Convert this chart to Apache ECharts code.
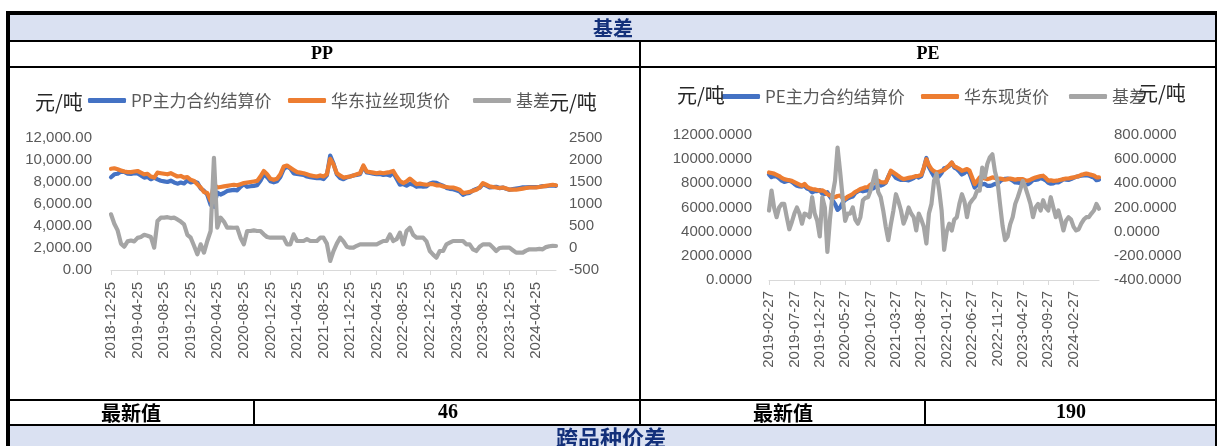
<!DOCTYPE html>
<html><head><meta charset="utf-8">
<script src="https://cdn.jsdelivr.net/npm/echarts@6/dist/echarts.min.js"></script>
<style>html,body{margin:0;padding:0;background:#fff}#c{width:1217px;height:446px}</style>
</head><body><div id="c"></div>
<script>
// ---------- PP (semi-monthly samples from 2018-12-25) ----------
const ppTickLabels = ['2018-12-25','2019-04-25','2019-08-25','2019-12-25','2020-04-25','2020-08-25','2020-12-25','2021-04-25','2021-08-25','2021-12-25','2022-04-25','2022-08-25','2022-12-25','2023-04-25','2023-08-25','2023-12-25','2024-04-25'];
const ppFutures = [8434,8700,8750,8950,8920,8750,8730,8800,8770,8600,8400,8470,8250,8393,8237,8111,8061,8000,8120,7961,7850,7950,7863,8150,7966,8050,7944,7417,7206,6841,5914,5750,7038,6861,7000,7188,7238,7290,7238,7566,7817,7564,7614,7650,7714,8114,8689,8450,8066,7966,8066,8466,9166,9417,9217,8789,8741,8691,8641,8500,8441,8391,8341,8366,8266,8600,10395,9670,8700,8366,8250,8420,8493,8593,8650,8717,9417,8867,8817,8767,8717,8730,8641,8691,8589,8841,8300,7750,7817,7664,7838,7750,7566,7616,7566,7600,7868,7950,7920,7768,7668,7467,7380,7341,7241,7141,6841,6967,7017,7230,7368,7470,7817,7667,7517,7540,7568,7450,7493,7393,7293,7350,7406,7456,7506,7510,7530,7530,7530,7570,7630,7630,7660,7700,7654];
const ppSpot = [9200,9250,9150,9050,8950,8900,8900,8950,9000,8850,8700,8750,8500,8400,8850,8800,8750,8700,8800,8650,8500,8550,8400,8450,8200,8100,7800,7500,7100,7000,6300,7800,7500,7550,7600,7650,7700,7750,7700,7800,7900,7950,8000,8050,8100,8500,9000,8700,8300,8200,8300,8700,9400,9500,9300,9100,8900,8850,8800,8700,8600,8550,8500,8600,8500,8700,10100,9600,8800,8600,8400,8450,8500,8600,8700,8800,9500,8950,8900,8850,8800,8850,8800,8850,8900,9000,8500,8100,7900,8050,8300,8050,7800,7850,7800,7750,7800,7800,7700,7700,7600,7550,7500,7500,7400,7300,7000,7050,7100,7200,7300,7500,7900,7750,7600,7550,7500,7450,7500,7400,7300,7300,7300,7350,7400,7450,7500,7500,7500,7550,7600,7650,7700,7750,7700];
const ppBasis = [766,550,400,100,30,150,170,150,230,250,300,280,250,7,613,689,689,700,680,689,650,600,537,300,234,50,-144,83,-106,159,386,2050,462,689,600,462,462,460,462,234,83,386,386,400,386,386,311,250,234,234,234,234,234,83,83,311,159,159,159,200,159,159,159,234,234,100,-295,-70,100,234,150,30,7,7,50,83,83,83,83,83,83,120,159,159,311,159,200,350,83,386,462,300,234,234,234,150,-68,-150,-220,-68,-68,83,120,159,159,159,159,83,83,-30,-68,30,83,83,83,10,-68,0,7,7,7,-50,-106,-106,-106,-60,-30,-30,-30,-20,-30,20,40,50,46];

// ---------- PE (semi-monthly samples from 2019-02-27) ----------
const peTickLabels = ['2019-02-27','2019-07-27','2019-12-27','2020-05-27','2020-10-27','2021-03-27','2021-08-27','2022-01-27','2022-06-27','2022-11-27','2023-04-27','2023-09-27','2024-02-27'];
const peFutures = [8725,8510,8600,8580,8400,8220,8120,8180,8230,8120,7950,7800,7750,7734,7800,7560,7480,7245,7350,7360,7440,7135,7100,7267,6900,6600,6300,5800,6000,6400,6620,6750,6850,6920,7200,7334,7410,7340,7390,7415,7560,7580,7696,7890,7815,7905,8040,8570,8980,8725,8450,8350,8275,8284,8280,8250,8340,8430,8590,8480,8600,9260,10098,9350,8950,8580,8420,8600,8865,9250,9300,9434,9710,9300,9190,8970,8730,8850,9060,8820,8240,7655,7860,8150,7920,7950,7790,7785,7850,7950,7930,8170,8300,8370,8390,8340,8230,8070,8065,8000,7930,7883,7920,8070,8280,8290,8320,8425,8370,8250,8045,7965,8000,8100,8075,8200,8340,8310,8280,8350,8450,8540,8580,8634,8660,8680,8640,8550,8475,8260,8310];
const peSpot = [8900,8850,8800,8700,8600,8450,8350,8300,8250,8200,8100,8000,7900,7800,7950,7700,7600,7530,7500,7450,7400,7420,7300,7100,7000,6900,6850,6950,6990,6800,6710,6900,7000,7120,7300,7400,7530,7600,7670,7700,7900,8000,8200,8220,8100,8080,8080,8500,9040,8900,8760,8600,8450,8350,8400,8450,8490,8550,8600,8630,8700,9300,10000,9500,9180,9000,8900,8950,9040,9100,9300,9500,9720,9400,9310,9200,9040,9100,9180,9050,8500,7940,8200,8490,8450,8400,8350,8400,8490,8450,8350,8400,8350,8300,8350,8400,8350,8300,8350,8350,8350,8250,8220,8300,8400,8490,8550,8600,8630,8450,8220,8250,8200,8220,8250,8300,8350,8400,8400,8450,8490,8550,8600,8700,8760,8800,8760,8700,8650,8490,8500];
const peBasis = [175,340,200,120,200,230,230,120,20,80,150,200,150,66,150,140,120,285,150,90,-40,285,200,-167,100,300,420,696,500,285,90,150,150,200,100,66,120,260,280,285,340,420,504,330,285,175,40,-70,60,175,310,250,175,66,120,200,150,120,10,150,100,40,-98,150,230,420,480,350,175,-150,0,66,10,100,120,230,310,250,120,230,260,285,340,340,530,450,560,615,640,500,420,230,50,-70,-40,60,120,230,285,350,420,367,300,230,120,200,230,175,260,200,175,285,200,120,175,100,10,90,120,100,40,10,20,66,100,120,120,150,175,230,190];

const latestPP = '46';
const latestPE = '190';

function halfMonthDates(y0, m0, dA, dB, n) {
  const out = [];
  for (let k = 0; k < n; k++) {
    const off = Math.ceil(k / 2);
    const d = k % 2 === 0 ? dA : dB;
    let mm = m0 - 1 + off;
    const yy = y0 + Math.floor(mm / 12);
    mm = mm % 12 + 1;
    out.push(yy + '-' + String(mm).padStart(2, '0') + '-' + String(d).padStart(2, '0'));
  }
  return out;
}
const ppDates = halfMonthDates(2018, 12, 25, 10, ppSpot.length);
const peDates = halfMonthDates(2019, 2, 27, 12, peSpot.length);

const BLUE = '#4472C4', ORANGE = '#ED7D31', GRAY = '#A5A5A5';
const LBL = '#595959';
const NUMF = 'Liberation Sans';
const CJK = 'Noto Sans CJK SC';

function xAx(grid, dates, ticks, margin) {
  const f = (i, v) => ticks.indexOf(v) >= 0;
  return {
    type: 'category', gridIndex: grid, data: dates, boundaryGap: false,
    axisLine: { lineStyle: { color: '#D9D9D9', width: 1 } },
    axisTick: { show: true, length: 5, interval: f, lineStyle: { color: '#D9D9D9' } },
    axisLabel: { interval: f, rotate: 90, margin: margin, color: LBL, fontSize: 15, fontFamily: NUMF },
    splitLine: { show: false }
  };
}
function yAx(grid, pos, min, max, itv, fmt, margin) {
  return {
    type: 'value', gridIndex: grid, position: pos, min: min, max: max, interval: itv,
    axisLine: { show: false }, axisTick: { show: false }, splitLine: { show: false },
    axisLabel: { formatter: fmt, margin: margin, color: LBL, fontSize: 15, fontFamily: NUMF }
  };
}
function ln(name, xi, yi, data, color) {
  return { name: name, type: 'line', xAxisIndex: xi, yAxisIndex: yi, data: data,
    showSymbol: false, symbol: 'none', color: color,
    lineStyle: { width: 4.2, color: color, cap: 'round', join: 'round' } };
}
function leg(name, left, top) {
  return { data: [name], left: left, top: top, padding: 0, icon: 'roundRect',
    itemWidth: 38, itemHeight: 5, selectedMode: false,
    textStyle: { color: LBL, fontSize: 17, fontFamily: CJK } };
}
function rect(x, y, w, h, fill) {
  return { type: 'rect', shape: { x: x, y: y, width: w, height: h }, style: { fill: fill }, z: 100, silent: true };
}
function txt(t, x, y, font, fill, align) {
  return { type: 'text', z: 101, silent: true,
    style: { text: t, x: x, y: y, font: font, fill: fill,
      textAlign: align || 'center', textVerticalAlign: 'middle', align: align || 'center', verticalAlign: 'middle' } };
}

const TB = '#13307A', BG = '#DAE1F2';
const option = {
  animation: false,
  grid: [
    { left: 111, top: 138, width: 445, height: 132 },
    { left: 769, top: 135, width: 330, height: 145 }
  ],
  xAxis: [xAx(0, ppDates, ppTickLabels, 12), xAx(1, peDates, peTickLabels, 11)],
  yAxis: [
    yAx(0, 'left', 0, 12000, 2000, v => v.toLocaleString('en-US', { minimumFractionDigits: 2, maximumFractionDigits: 2 }), 19),
    yAx(0, 'right', -500, 2500, 500, v => String(v), 13),
    yAx(1, 'left', 0, 12000, 2000, v => v.toFixed(4), 17),
    yAx(1, 'right', -400, 800, 200, v => v.toFixed(4), 15)
  ],
  legend: [
    leg('PP主力合约结算价', 88, 92), leg('华东拉丝现货价', 288, 92), leg('基差', 473, 92),
    leg('PE主力合约结算价', 722, 88), leg('华东现货价', 921, 88), leg('基差', 1069, 88)
  ],
  series: [
    ln('PP主力合约结算价', 0, 0, ppFutures, BLUE),
    ln('华东拉丝现货价', 0, 0, ppSpot, ORANGE),
    ln('基差', 0, 1, ppBasis, GRAY),
    ln('PE主力合约结算价', 1, 2, peFutures, BLUE),
    ln('华东现货价', 1, 2, peSpot, ORANGE),
    ln('基差', 1, 3, peBasis, GRAY)
  ],
  graphic: [
    rect(9, 15, 1206, 25, BG),
    rect(9, 426, 1206, 20, BG),
    rect(6, 11, 1211, 4, '#000'),
    rect(6, 11, 4, 435, '#000'),
    rect(1215, 11, 2, 435, '#000'),
    rect(9, 40, 1206, 2, '#000'),
    rect(9, 66, 1206, 2, '#000'),
    rect(9, 399, 1206, 2, '#000'),
    rect(9, 424, 1206, 2, '#000'),
    rect(639, 41, 2, 384, '#000'),
    rect(253, 400, 2, 25, '#000'),
    rect(924, 400, 2, 25, '#000'),
    txt('基差', 613, 28, 'bold 20px "' + CJK + '"', TB),
    txt('PP', 322, 54, 'bold 18px "Liberation Serif"', '#000'),
    txt('PE', 928, 54, 'bold 18px "Liberation Serif"', '#000'),
    txt('最新值', 131, 413, 'bold 20px "' + CJK + '"', '#000'),
    txt(latestPP, 448, 413, 'bold 20px "Liberation Serif"', '#000'),
    txt('最新值', 783, 413, 'bold 20px "' + CJK + '"', '#000'),
    txt(latestPE, 1071, 413, 'bold 20px "Liberation Serif"', '#000'),
    txt('跨品种价差', 611, 438, 'bold 22px "' + CJK + '"', TB),
    txt('元/吨', 35, 102, '20px "' + CJK + '"', '#262626', 'left'),
    txt('元/吨', 549, 102, '20px "' + CJK + '"', '#262626', 'left'),
    txt('元/吨', 677, 95, '20px "' + CJK + '"', '#262626', 'left'),
    txt('元/吨', 1138, 93, '20px "' + CJK + '"', '#262626', 'left')
  ]
};
const chart = echarts.init(document.getElementById('c'), null, { renderer: 'canvas' });
chart.setOption(option);
</script></body></html>
